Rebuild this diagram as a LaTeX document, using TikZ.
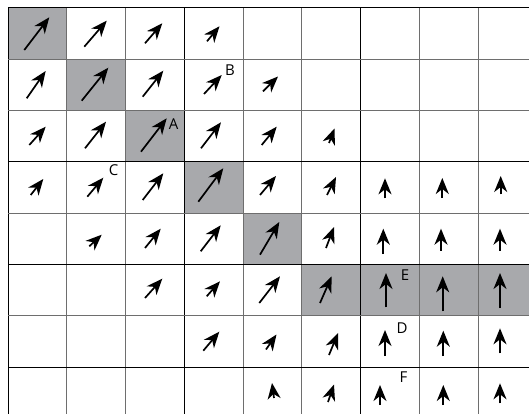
\documentclass[tikz,border=0pt]{standalone}
\usepackage{fontspec}
\setmainfont{Open Sans}
\usetikzlibrary{arrows.meta}
\definecolor{cellshade}{HTML}{A8A9AC}
\definecolor{gridgray}{HTML}{6E6E6E}
\begin{document}
\begin{tikzpicture}[x=1pt,y=-1pt,
  vec/.style={line width=1.7pt,-{Stealth[length=16pt,width=13pt,inset=5pt]}},
  gline/.style={gridgray,line width=1pt},
  bline/.style={black,line width=1pt},
  lab/.style={font=\fontsize{15}{15}\selectfont,inner sep=0pt}]
\useasboundingbox (0,0) rectangle (529,414);
\fill[white] (0,0) rectangle (529,414);
% shaded cells
\fill[cellshade] (8,8) rectangle (66.75,59.3);
\fill[cellshade] (66.75,59.3) rectangle (125.5,110.6);
\fill[cellshade] (125.5,110.6) rectangle (184.25,161.9);
\fill[cellshade] (184.25,161.9) rectangle (243,213.2);
\fill[cellshade] (243,213.2) rectangle (301.75,264.5);
\fill[cellshade] (301.75,264.5) rectangle (529,315.8);
% grid
\foreach \x in {66.75,125.5,243,301.75,419.25,478} \draw[gline] (\x,8) -- (\x,414);
\foreach \x in {8,184.25,360.5} \draw[bline] (\x,8) -- (\x,414);
\foreach \y in {59.3,110.6,213.2,315.8} \draw[gline] (8,\y) -- (529,\y);
\foreach \y in {8,161.9,264.5,367.1} \draw[bline] (8,\y) -- (529,\y);
% arrows
\foreach \ax/\ay/\bx/\by in {
  24.3/50/49.3/17.3, 84.3/46.7/106.7/20.7, 145/43.3/162.3/23.3, 207/41.3/219.5/26.3,
  26.7/98.3/45.7/71, 81.7/100.7/108.3/67.7, 142.7/96.7/163.3/70.7, 204/94/221.7/75, 263/91.3/278/76.5,
  29.3/145/45.7/126.7, 85/148.3/106/121.7, 141/151.7/166.7/118.3, 201/148.3/221/122.3, 261.7/145/276.7/126.7, 329/143/334.5/128.5,
  30.7/195/43.3/179, 87.3/196.7/103.3/177.7, 142.7/200/163.3/173.3, 198.3/201.7/223.3/168.3, 260/195/276/176, 327/195/336/177, 385/198.3/385/178.3, 442.3/198/442.3/178, 500.7/194.3/500.7/176,
  89.3/246.3/101.7/234.7, 145/248/160.7/228.7, 200.7/251.3/220.7/225.3, 260/254.7/279.3/222, 326/248/334/227, 383.3/254/383.3/228.7, 441/250.7/441/228.7, 500/250.7/500/228.7,
  145/298/162.3/278.7, 206.7/296.3/220/281.3, 259.3/303/280/276.3, 320/303/331.7/276.3, 386/307.3/386/273, 442.7/311.3/442.7/276.3, 500/308/500/273,
  203.3/350.7/219.3/331.7, 266/349.5/276.5/334.5, 329/355/338/333, 385/356/385/330, 443.3/356/443.3/330.7, 500/353.3/500/328.3,
  274/398/272/383, 328/402/334/384.5, 380/405/380/385, 443.3/405/443.3/385, 500/403.3/500/383.3}
  \draw[vec] (\ax,\ay) -- (\bx,\by);
% labels
\node[lab] (lA) at (173.5,124) {A};
\node[lab] (lB) at (230,70) {B};
\node[lab] (lC) at (113.5,170) {C};
\node[lab] (lD) at (402,328.5) {D};
\node[lab] (lE) at (405,275) {E};
\node[lab] (lF) at (403.5,377) {F};
\end{tikzpicture}
\end{document}
